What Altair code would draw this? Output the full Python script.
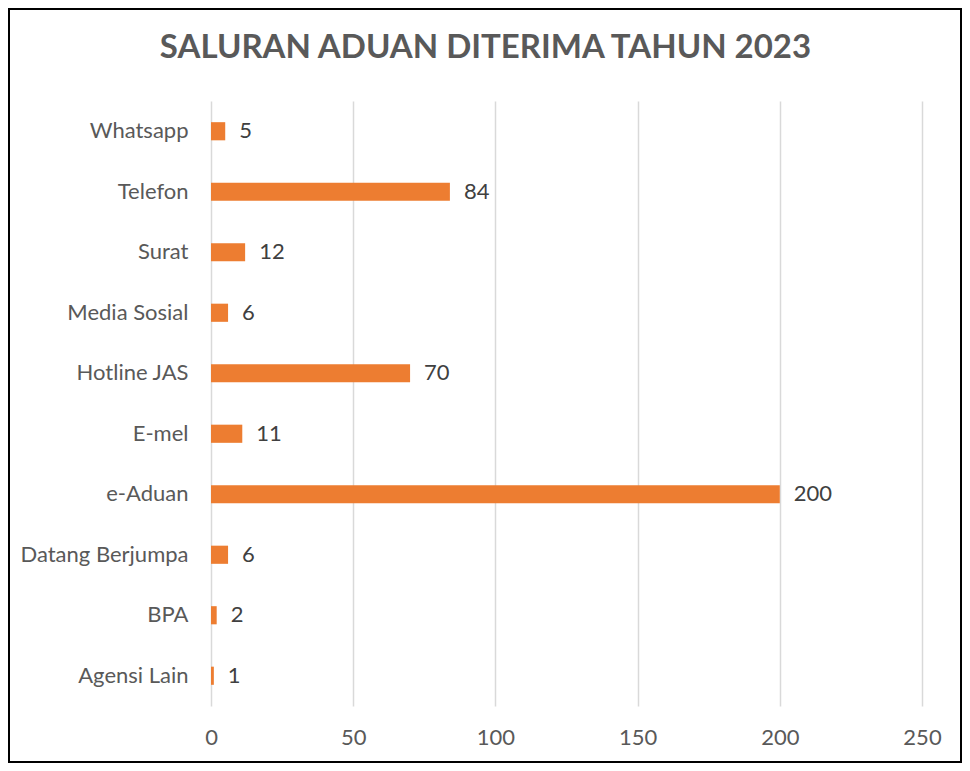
import altair as alt
import pandas as pd

channels = ["Whatsapp", "Telefon", "Surat", "Media Sosial", "Hotline JAS",
            "E-mel", "e-Aduan", "Datang Berjumpa", "BPA", "Agensi Lain"]
counts = [5, 84, 12, 6, 70, 11, 200, 6, 2, 1]
x_ticks = [0, 50, 100, 150, 200, 250]

df = pd.DataFrame({"saluran": channels, "jumlah": counts})

W, H = 711, 605
PL, PT, PR, PB = 203, 93, 40, 57

y_enc = alt.Y("saluran:N", sort=channels, title=None,
              scale=alt.Scale(paddingInner=0.7, paddingOuter=0.35),
              axis=alt.Axis(labelFont="Lato", labelFontSize=22, labelColor="#595959",
                            ticks=False, domain=False, labelPadding=23, grid=False))
x_enc = alt.X("jumlah:Q", title=None,
              scale=alt.Scale(domain=[0, 250], nice=False),
              axis=alt.Axis(values=x_ticks, labelFont="Lato", labelFontSize=22,
                            labelColor="#595959", ticks=False, domain=False,
                            labelFlush=False, labelOverlap=False,
                            labelPadding=21, grid=True, gridColor="#d9d9d9",
                            gridWidth=1.5))

bars = alt.Chart(df).mark_bar(color="#ED7D31").encode(x=x_enc, y=y_enc)
labels = alt.Chart(df).mark_text(align="left", dx=14, font="Lato", fontSize=22,
                                 color="#404040", baseline="middle").encode(
    x="jumlah:Q", y=alt.Y("saluran:N", sort=channels), text="jumlah:Q")

border = alt.Chart(pd.DataFrame({"a": [0]})).mark_rect(
    fill=None, stroke="black", strokeWidth=2, clip=False).encode(
    x=alt.value(-PL + 1), x2=alt.value(W + PR - 1),
    y=alt.value(-PT + 1), y2=alt.value(H + PB - 1))

chart = alt.layer(bars, labels, border).properties(
    width=W, height=H,
    background="white",
    padding={"left": PL, "top": PT, "right": PR, "bottom": PB},
    autosize=alt.AutoSizeParams(type="none"),
    title=alt.TitleParams("SALURAN ADUAN DITERIMA TAHUN 2023", font="Lato",
                          fontSize=33, fontWeight="bold", color="#595959",
                          anchor="middle", frame="group", dx=-81, offset=-57),
).configure_view(stroke="transparent", strokeWidth=0)

chart.save("out.html", embed_options={"renderer": "svg", "actions": False})
